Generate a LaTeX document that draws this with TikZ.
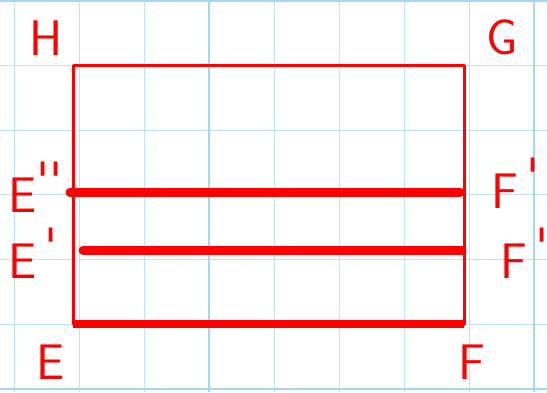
\documentclass[tikz,border=0pt]{standalone}
\usepackage{xcolor}
\usetikzlibrary{positioning}
\definecolor{gridblue}{RGB}{190,228,250}
\definecolor{gridmajor}{RGB}{165,215,245}
\newcommand{\hprime}{\raisebox{0.3em}{\textquotesingle}}

\begin{document}
\begin{tikzpicture}[x=1pt,y=-1pt,
	gridline/.style={draw=gridblue,line width=0.9pt},
	gridthick/.style={draw=gridmajor,line width=2pt},
	lbl/.style={text=red,font=\sffamily\fontsize{50}{50}\selectfont,inner sep=0pt},
	frame/.style={draw=red,line width=3pt,line join=round},
	bar/.style={draw=red,line width=9pt,line cap=round}]
	\useasboundingbox[fill=white] (0,0) rectangle (547,392);
	% squared paper
	\foreach \i in {0,...,8}
		\draw[gridline] ({14.7+64.9*\i},0) -- ++(0,392);
	\foreach \j in {0,...,6}
		\draw[gridline] (0,{389-64.7*\j}) -- ++(547,0);
	\draw[gridthick] (209.4,0) -- ++(0,392);
	\draw[gridthick] (533.9,0) -- ++(0,392);
	\draw[gridthick] (0,389) -- ++(547,0);
	\draw[gridthick] (0,0.8) -- ++(547,0);
	%
	\coordinate (Ecor) at (73,324);
	\coordinate (Fcor) at (464,324);
	\coordinate (Gcor) at (464,65);
	\coordinate (Hcor) at (73,65);
	\coordinate (E2cor) at (70,192);
	\coordinate (F2cor) at (460,192);
	\coordinate (E1cor) at (83,250);
	\coordinate (F1cor) at (462,250);
	%
	\draw[frame] (Ecor) -- (Fcor) -- (Gcor) -- (Hcor) -- cycle;
	\draw[bar] (E2cor) -- (F2cor);
	\draw[bar] (E1cor) -- (F1cor);
	\draw[bar,line width=8pt,line cap=butt] (Ecor) -- (Fcor);
	%
	\node[lbl,anchor=base west] (H) at (29,55) {H};
	\node[lbl,anchor=base west] (G) at (486,54) {G};
	\node[lbl,anchor=base west] (E2) at (8,212) {E\hprime\hprime};
	\node[lbl,anchor=base west] (E1) at (8,278) {E\,\hprime};
	\node[lbl,anchor=base west] (E) at (36,379) {E};
	\node[lbl,anchor=base west] (F2) at (491,208) {F\,\hprime};
	\node[lbl,anchor=base west] (F1) at (500,278) {F\,\hprime};
	\node[lbl,anchor=base west] (F) at (458,379) {F};
\end{tikzpicture}
\end{document}
